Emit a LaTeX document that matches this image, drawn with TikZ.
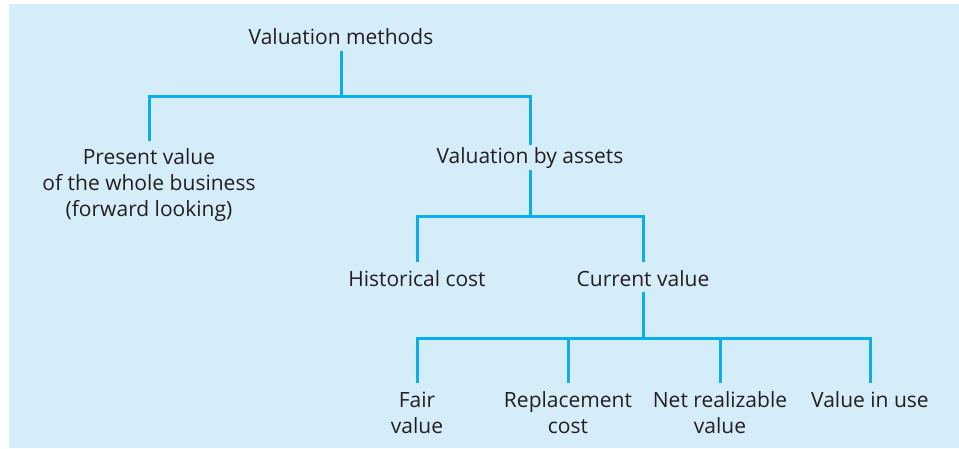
\documentclass[tikz,border=0pt]{standalone}
\usepackage{fontspec}
\setmainfont{Open Sans}
\definecolor{bgblue}{HTML}{D5ECF9}
\definecolor{linecyan}{HTML}{0AAEEA}
\definecolor{txt}{HTML}{231F20}
\begin{document}
\begin{tikzpicture}[x=1pt,y=-1pt,
  lbl/.style={text=txt,font=\fontsize{21}{26}\selectfont,align=center,inner sep=0pt,anchor=center},
  conn/.style={draw=linecyan,line width=3pt}]
\useasboundingbox (0,0) rectangle (959,448);
\fill[bgblue] (9,4) rectangle (959,448);
% nodes
\node[lbl] (root) at (341,37) {Valuation methods};
\node[lbl] (pv) at (149,185) {Present value\\of the whole business\\(forward looking)};
\node[lbl] (va) at (530,158) {Valuation by assets};
\node[lbl] (hc) at (417,279) {Historical cost};
\node[lbl] (cv) at (643,279) {Current value};
\node[lbl] (fv) at (417,413) {Fair\\value};
\node[lbl] (rc) at (568,413) {Replacement\\cost};
\node[lbl] (nrv) at (720,413) {Net realizable\\value};
\node[lbl] (viu) at (870,400) {Value in use};
% junction coordinates
\coordinate (j1) at (341,96);
\coordinate (j2) at (530,216);
\coordinate (j3) at (643,338);
% connectors
\draw[conn] (341,51) -- (j1);
\draw[conn] (149,141) |- (j1) -| (530,145);
\draw[conn] (530,170) -- (j2);
\draw[conn] (417,262) |- (j2) -| (643,262);
\draw[conn] (643,292) -- (j3);
\draw[conn] (417,383) |- (j3) -| (870,383);
\draw[conn] (568,383) -- (568,338);
\draw[conn] (720,383) -- (720,338);
\end{tikzpicture}
\end{document}
